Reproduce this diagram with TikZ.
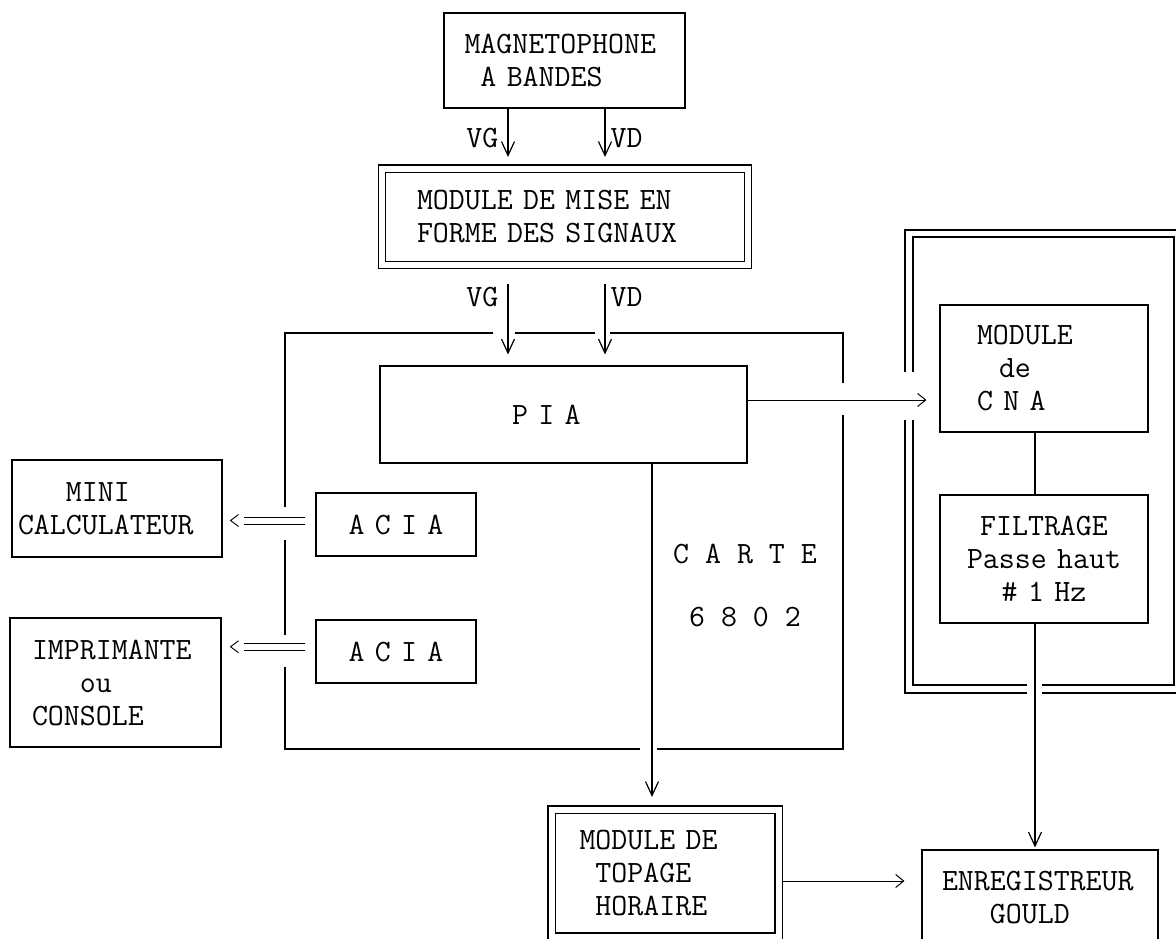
\documentclass[tikz,border=0pt]{standalone}
\usetikzlibrary{arrows.meta,calc}
\newcommand\lbl{\fontsize{31}{33}\selectfont\ttfamily}
\begin{document}
\begin{tikzpicture}[x=1pt,y=-1pt,
  box/.style={draw, line width=1.1pt, rectangle, inner ysep=0pt, font=\lbl, align=left},
  dbox/.style={box, double, double distance=6pt},
  line/.style={line width=1.2pt},
  arr/.style={line width=1.2pt, -{Straight Barb[length=14pt,width=13pt]}},
  harr/.style={line width=1pt, -{Straight Barb[length=8pt,width=13pt]}},
  dline/.style={line width=0.9pt},
  lab/.style={font=\lbl, inner sep=0pt}
]
\useasboundingbox (0,0) rectangle (1176,938);

% boxes
\node[box, minimum height=95, text width=200, inner xsep=20.5] (mag) at (564.5,60.5)
  {MAGNETOPHONE\\\phantom{X}A BANDES};
\node[dbox, minimum height=96.5, text width=296, inner xsep=35] (mise) at (565,216.75)
  {MODULE DE MISE EN\\FORME DES SIGNAUX};
\node[box, minimum height=97, text width=103, inner xsep=132] (pia) at (563.5,414.5) {P I A};
\node[box, minimum height=63, text width=120, inner xsep=20, align=center] (acia1) at (396,524.5) {A C I A};
\node[box, minimum height=63, text width=120, inner xsep=20, align=center] (acia2) at (396,651.5) {A C I A};
\node[box, minimum height=97, text width=198, inner xsep=6] (mini) at (117,508.5)
  {\phantom{XXX}MINI\\CALCULATEUR};
\node[box, minimum height=129, text width=167, inner xsep=22] (impr) at (115.5,682.5)
  {IMPRIMANTE\\\phantom{XXX}ou\\CONSOLE};
\node[box, minimum height=127, text width=134, inner xsep=37] (cna) at (1044,368.5)
  {MODULE\\\hspace*{22pt}de\\C N A};
\node[box, minimum height=128, text width=188, inner xsep=10, align=center] (filt) at (1044,559)
  {FILTRAGE\\Passe haut\\\# 1 Hz};
\node[dbox, minimum height=127, text width=171, inner xsep=28] (topage) at (665,873)
  {MODULE DE\\\phantom{X}TOPAGE\\\phantom{X}HORAIRE};
\node[box, minimum height=95, text width=196, inner xsep=20] (enreg) at (1040,897.5)
  {ENREGISTREUR\\\phantom{XXX}GOULD};

% CARTE 6802 outline (with gaps)
\draw[line] (515,333) -- (595,333)
  (610,333) -- (843,333) -- (843,383)
  (843,415) -- (843,749) -- (657,749)
  (640,749) -- (285,749) -- (285,667)
  (285,635) -- (285,540)
  (285,507) -- (285,333) -- (493,333);
\node[lab, align=left] (carte) at (745,585) {C A R T E\\[30pt]\phantom{X}6 8 0 2};

% right double container
\draw[line] (905,372) -- (905,230) -- (1184,230) -- (1184,693) -- (1042,693)
  (1027,693) -- (905,693) -- (905,420);
\draw[line] (913,372) -- (913,237) -- (1174,237) -- (1174,685) -- (1042,685)
  (1027,685) -- (913,685) -- (913,420);

% connectors
\draw[arr, shorten >=11pt] (mag.south -| 508,0) -- (mise.north -| 508,0)
  node[lab, midway, left=9pt] {VG};
\draw[arr, shorten >=11pt] (mag.south -| 605,0) -- (mise.north -| 605,0)
  node[lab, midway, right=5pt] {VD};
\draw[arr, shorten <=18pt, shorten >=11pt] (mise.south -| 508,0) -- (pia.north -| 508,0)
  node[lab, pos=0.32, left=9pt] {VG};
\draw[arr, shorten <=18pt, shorten >=11pt] (mise.south -| 605,0) -- (pia.north -| 605,0)
  node[lab, pos=0.32, right=5pt] {VD};
\draw[harr, shorten >=13pt] (pia.east |- 0,400) -- (cna.west |- 0,400);
\draw[arr, shorten >=12pt] (pia.south -| 652,0) -- (topage.north -| 652,0);
\draw[line] (cna.south -| 1035,0) -- (filt.north -| 1035,0);
\draw[arr, shorten >=2pt] (filt.south -| 1035,0) -- (enreg.north -| 1035,0);
\draw[harr, shorten <=3.5pt, shorten >=17pt] (topage.east |- 0,881) -- (enreg.west |- 0,881);

% double-line links ACIA -> MINI / IMPRIMANTE
\draw[dline] ($(acia1.west)+(-10,-7.5)$) -- ($(mini.east |- acia1.west)+(21,-7.5)$);
\draw[dline] ($(acia1.west)+(-10,-0.5)$) -- ($(mini.east |- acia1.west)+(21,-0.5)$);
\draw[dline] ($(mini.east |- acia1.west)+(16,-10)$) -- ($(mini.east |- acia1.west)+(8,-4)$)
  -- ($(mini.east |- acia1.west)+(16,2)$);
\draw[dline] ($(acia2.west)+(-10,-8.5)$) -- ($(impr.east |- acia2.west)+(22,-8.5)$);
\draw[dline] ($(acia2.west)+(-10,-1)$) -- ($(impr.east |- acia2.west)+(22,-1)$);
\draw[dline] ($(impr.east |- acia2.west)+(17,-10.75)$) -- ($(impr.east |- acia2.west)+(9,-4.75)$)
  -- ($(impr.east |- acia2.west)+(17,1.25)$);
\end{tikzpicture}
\end{document}
